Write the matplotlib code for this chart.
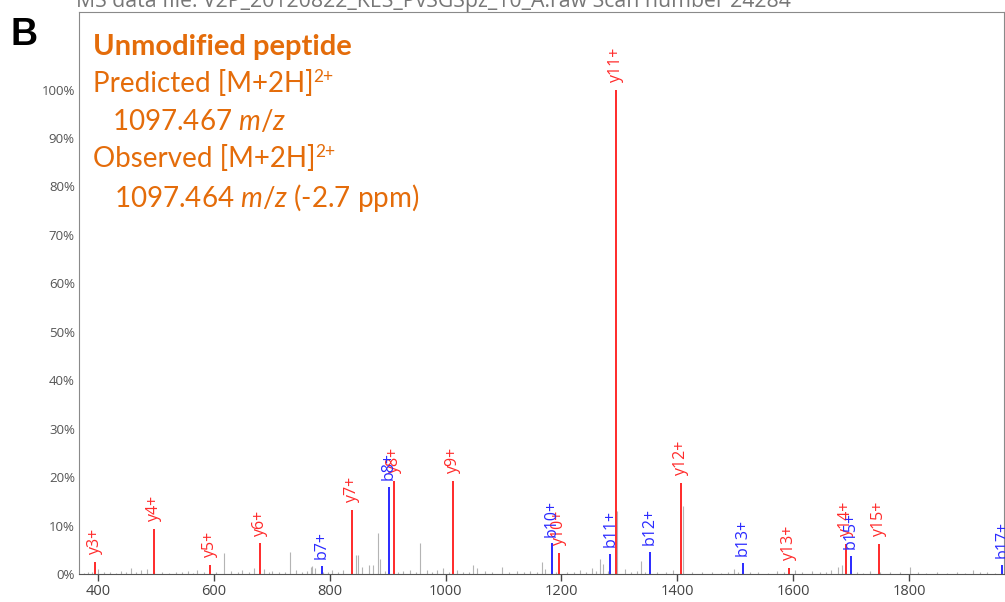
import matplotlib.pyplot as plt
from matplotlib.ticker import FuncFormatter

plt.rcParams['font.family'] = ['Open Sans', 'DejaVu Sans']
plt.rcParams['mathtext.fontset'] = 'custom'
plt.rcParams['mathtext.rm'] = 'Lato'
plt.rcParams['mathtext.it'] = 'Lato:italic'

# y ions (red)
y_labels = ['y3+', 'y4+', 'y5+', 'y6+', 'y7+', 'y8+', 'y9+', 'y10+', 'y11+',
            'y12+', 'y13+', 'y14+', 'y15+']
y_mz = [395, 496, 593, 679, 839, 911, 1012.6, 1196, 1293.6, 1407, 1593, 1692, 1748]
y_int = [2.4, 9.3, 1.9, 6.3, 13.3, 19.2, 19.2, 4.4, 100, 18.7, 1.2, 6.2, 6.2]

# b ions (blue)
b_labels = ['b7+', 'b8+', 'b10+', 'b11+', 'b12+', 'b13+', 'b15+', 'b17+']
b_mz = [786, 902, 1183, 1284, 1353, 1513, 1699, 1961]
b_int = [1.7, 18.0, 6.3, 4.1, 4.6, 2.3, 3.7, 1.8]

# unassigned peaks (grey)
other_mz = [376, 382, 390, 400, 410, 420, 431, 440, 448, 456, 466, 474, 485,
            497, 510, 522, 534, 545, 555, 563, 571, 583, 604, 617, 630, 641,
            649, 660, 669, 687, 695, 701, 712, 722, 731, 741, 752, 760, 767,
            769, 775, 789, 797, 803, 815, 823, 846, 849, 855, 867, 875, 884,
            887, 895, 918, 927, 939, 948, 956, 967, 976, 985, 996, 1005, 1019,
            1030, 1041, 1048, 1054, 1068, 1080, 1097, 1110, 1123, 1135, 1146,
            1158, 1167, 1172, 1190, 1210, 1222, 1232, 1243, 1252, 1260, 1267,
            1272, 1280, 1296, 1310, 1320, 1330, 1338, 1345, 1365, 1380, 1393,
            1409, 1425, 1442, 1460, 1475, 1488, 1497, 1505, 1525, 1540, 1556,
            1572, 1585, 1603, 1615, 1632, 1646, 1657, 1666, 1678, 1684, 1710,
            1720, 1733, 1750, 1767, 1785, 1802, 1815, 1830, 1848, 1865, 1882,
            1897, 1911, 1922, 1934, 1948]
other_int = [0.3, 0.4, 0.5, 1.0, 0.4, 0.5, 0.3, 0.7, 0.4, 1.2, 0.4, 0.8, 1.0,
             0.4, 0.5, 0.3, 0.5, 0.4, 0.6, 0.3, 0.8, 0.4, 0.5, 4.3, 0.7, 0.4,
             0.8, 0.5, 1.2, 1.0, 0.4, 0.6, 0.5, 0.4, 4.5, 0.8, 0.4, 0.6, 1.5,
             1.7, 1.2, 0.5, 0.4, 0.8, 0.5, 0.8, 4.0, 4.0, 1.5, 1.8, 1.8, 8.4,
             3.1, 0.7, 0.4, 0.6, 0.8, 0.4, 6.4, 0.8, 0.5, 0.8, 1.3, 0.5, 0.8,
             0.4, 0.5, 1.9, 1.2, 0.6, 0.4, 1.5, 0.4, 0.6, 0.4, 0.6,
             0.5, 2.4, 1.0, 0.5, 0.4, 0.5, 0.8, 0.5, 1.2, 0.6, 3.1,
             2.0, 0.6, 13.0, 1.0, 0.5, 0.6, 2.7, 0.4, 0.4, 0.5, 0.8,
             14.1, 0.4, 0.5, 0.4, 0.3, 0.4, 1.0, 0.4, 0.4, 0.5, 0.3,
             0.6, 0.4, 0.8, 0.4, 0.6, 0.5, 0.4, 0.8, 1.4, 1.9, 0.4,
             0.3, 0.6, 0.4, 0.5, 0.4, 1.4, 0.4, 0.3, 0.4, 0.3, 0.4,
             0.3, 0.8, 0.4, 0.5, 0.3]

x_ticks = [400, 600, 800, 1000, 1200, 1400, 1600, 1800]
y_ticks = [0, 10, 20, 30, 40, 50, 60, 70, 80, 90, 100]

RED = '#ff2a2a'
BLUE = '#2a2aff'
GREY = '#b4b4b4'
ORANGE = '#e46c0a'

fig = plt.figure(figsize=(10.05, 6.02), dpi=100)
ax = fig.add_axes([79 / 1005, 28 / 602, 925 / 1005, 562 / 602])

ax.vlines(other_mz, 0, other_int, colors=GREY, lw=0.8)
ax.vlines(y_mz, 0, y_int, colors=RED, lw=1.4)
ax.vlines(b_mz, 0, b_int, colors=BLUE, lw=1.4)

# ion labels above the peaks
for labels, mzs, ints, col in [(y_labels, y_mz, y_int, RED),
                               (b_labels, b_mz, b_int, BLUE)]:
    for lab, mz, h in zip(labels, mzs, ints):
        ax.annotate(lab, (mz, h), xytext=(0, 5), textcoords='offset points',
                    rotation=90, ha='center', va='bottom', color=col,
                    fontsize=11.5, annotation_clip=False)

ax.set_xlim(367, 1964)
ax.set_ylim(0, 116)
ax.set_xticks(x_ticks)
ax.set_yticks(y_ticks)
ax.yaxis.set_major_formatter(FuncFormatter(lambda v, p: '%d%%' % v))
ax.tick_params(axis='x', length=5, width=1, color='#444444', labelcolor='#444444',
               labelsize=10.5, pad=2)
ax.tick_params(axis='y', length=0, labelcolor='#555555', labelsize=9.5, pad=3)
for side in ['left', 'top', 'right']:
    ax.spines[side].set_color('#8a8a8a')
ax.spines['bottom'].set_color('#555555')

# header
fig.text(76 / 1005, 1 - 7 / 602,
         'MS data file: V2P_20120822_KES_PvSGSpz_10_A.raw Scan number 24284',
         va='baseline', ha='left', color='#777777', fontsize=15.3)
fig.text(10 / 1005, 1 - 45 / 602, 'B', va='baseline', ha='left',
         fontsize=27, fontweight='bold', family='Liberation Sans')


# precursor info
def px(x, y):
    return x / 1005, 1 - y / 602


fig.text(*px(93, 55), 'Unmodified peptide', color=ORANGE, fontsize=21,
         fontweight='bold', family='Lato', va='baseline')
for xx, yy, s in [(93, 92, 'Predicted [M+2H]'), (93, 167, 'Observed [M+2H]')]:
    t = fig.text(*px(xx, yy), s, color=ORANGE, fontsize=20, family='Lato',
                 va='baseline')
    ax.annotate('2+', xy=(1, 1), xycoords=t, xytext=(0, 1),
                textcoords='offset points', color=ORANGE, fontsize=12.5,
                family='Lato', va='top', ha='left', annotation_clip=False)
fig.text(*px(112, 130), r'1097.467 $m/z$', color=ORANGE, fontsize=20,
         family='Lato', va='baseline')
fig.text(*px(114, 207), r'1097.464 $m/z$ (-2.7 ppm)', color=ORANGE, fontsize=20,
         family='Lato', va='baseline')

fig.savefig('out.png', dpi=100)
